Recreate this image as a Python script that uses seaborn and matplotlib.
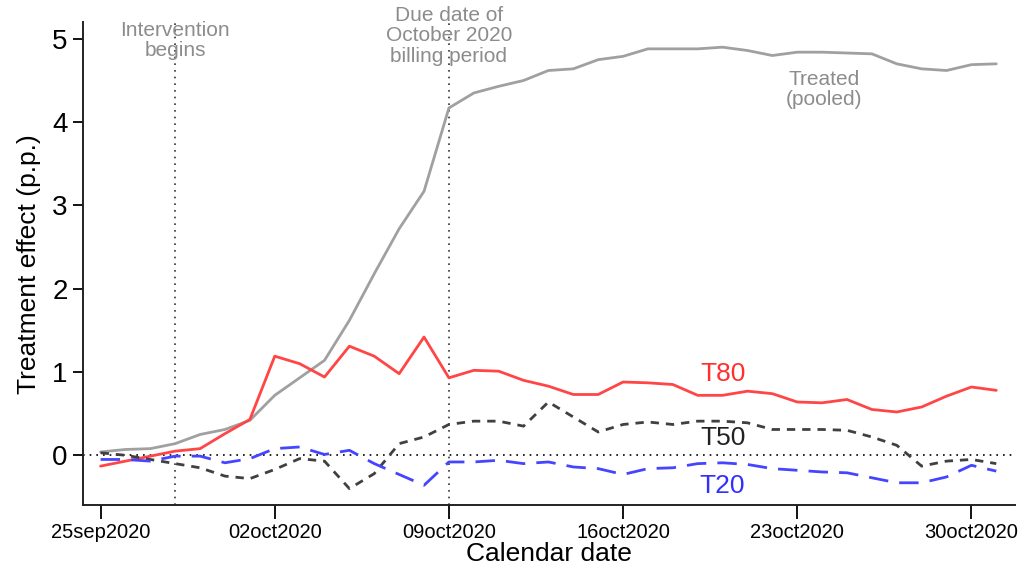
import pandas as pd
import matplotlib
matplotlib.use("Agg")
import matplotlib.pyplot as plt
import matplotlib.dates as mdates
import seaborn as sns

# Daily treatment effects, 25sep2020 .. 31oct2020
dates = pd.date_range("2020-09-25", "2020-10-31", freq="D")

pooled = [0.04, 0.07, 0.08, 0.14, 0.25, 0.31, 0.42, 0.72, 0.93, 1.14,
          1.62, 2.18, 2.72, 3.17, 4.17, 4.35, 4.43, 4.50, 4.62, 4.64,
          4.75, 4.79, 4.88, 4.88, 4.88, 4.90, 4.86, 4.80, 4.84, 4.84,
          4.83, 4.82, 4.70, 4.64, 4.62, 4.69, 4.70]
t80 = [-0.13, -0.07, -0.01, 0.05, 0.08, 0.26, 0.43, 1.19, 1.10, 0.94,
       1.31, 1.19, 0.98, 1.42, 0.93, 1.02, 1.01, 0.90, 0.83, 0.73,
       0.73, 0.88, 0.87, 0.85, 0.72, 0.72, 0.77, 0.74, 0.64, 0.63,
       0.67, 0.55, 0.52, 0.58, 0.71, 0.82, 0.78]
t50 = [0.03, 0.00, -0.05, -0.10, -0.15, -0.25, -0.28, -0.17, -0.04, -0.07,
       -0.40, -0.22, 0.14, 0.22, 0.37, 0.41, 0.41, 0.35, 0.64, 0.46,
       0.28, 0.37, 0.40, 0.37, 0.41, 0.41, 0.39, 0.31, 0.31, 0.31,
       0.30, 0.22, 0.12, -0.13, -0.07, -0.05, -0.10]
t20 = [-0.05, -0.05, -0.07, -0.01, -0.01, -0.09, -0.04, 0.08, 0.10, 0.01,
       0.06, -0.10, -0.23, -0.36, -0.08, -0.08, -0.06, -0.10, -0.08, -0.14,
       -0.16, -0.23, -0.16, -0.15, -0.10, -0.09, -0.11, -0.16, -0.18, -0.20,
       -0.21, -0.27, -0.33, -0.33, -0.26, -0.12, -0.19]

tick_dates = pd.to_datetime(["2020-09-25", "2020-10-02", "2020-10-09",
                             "2020-10-16", "2020-10-23", "2020-10-30"])
intervention_date = pd.Timestamp("2020-09-28")
due_date = pd.Timestamp("2020-10-09")

df = pd.DataFrame({"date": dates, "pooled": pooled, "T80": t80,
                   "T50": t50, "T20": t20})

sns.set_style("white")
plt.rcParams["font.family"] = ["Liberation Sans", "DejaVu Sans"]

fig = plt.figure(figsize=(10.28, 5.69), dpi=100)
ax = fig.add_axes([0.0807, 0.112, 0.9066, 0.849])

gray = "#A0A0A0"
red = "#FF4545"
dark = "#404040"
blue = "#4545FF"
txt_gray = "#8C8C8C"

# reference lines
ax.axhline(0, color="black", linestyle=(0, (1, 3)), linewidth=1.2, zorder=1)
ax.axvline(intervention_date, color="#333333", linestyle=(0, (1, 3)), linewidth=1.2, zorder=1)
ax.axvline(due_date, color="#333333", linestyle=(0, (1, 3)), linewidth=1.2, zorder=1)

sns.lineplot(data=df, x="date", y="pooled", ax=ax, color=gray, linewidth=2)
sns.lineplot(data=df, x="date", y="T80", ax=ax, color=red, linewidth=2)
sns.lineplot(data=df, x="date", y="T50", ax=ax, color=dark, linewidth=2,
             linestyle=(0, (3, 2.5)))
sns.lineplot(data=df, x="date", y="T20", ax=ax, color=blue, linewidth=2,
             linestyle=(0, (7, 4)))

# series labels
lbl_x = pd.Timestamp("2020-10-20")
ax.text(lbl_x, 0.98, "T80", color="#FF3030", fontsize=19, ha="center", va="center")
ax.text(lbl_x, 0.21, "T50", color="#222222", fontsize=19, ha="center", va="center")
ax.text(lbl_x, -0.37, "T20", color="#3030FF", fontsize=19, ha="center", va="center")
ax.text(pd.Timestamp("2020-10-24 02:00"), 4.39, "Treated\n(pooled)", color=txt_gray,
        fontsize=15, ha="center", va="center", linespacing=1.1)

# event annotations
ax.text(intervention_date, 5.22, "Intervention\nbegins", color=txt_gray, fontsize=15,
        ha="center", va="top", linespacing=1.1)
ax.text(due_date, 5.4, "Due date of\nOctober 2020\nbilling period", color=txt_gray,
        fontsize=15, ha="center", va="top", linespacing=1.1)

ax.set_xlim(dates[0] - pd.Timedelta(hours=17), dates[-1] + pd.Timedelta(hours=18))
ax.set_ylim(-0.6, 5.2)
ax.set_yticks(range(0, 6))
ax.set_xticks(tick_dates)
ax.xaxis.set_major_formatter(mdates.DateFormatter("%d%b%Y"))
ax.set_xticklabels([d.strftime("%d%b%Y").lower() for d in tick_dates])

ax.tick_params(axis="y", labelsize=20, length=7, width=1.3, direction="out",
               left=True, pad=4, colors="black")
ax.tick_params(axis="x", labelsize=14.5, length=10, width=1.3, direction="out",
               bottom=True, pad=3, colors="black")

ax.set_xlabel("Calendar date", fontsize=19, labelpad=0, color="black")
ax.set_ylabel("Treatment effect (p.p.)", fontsize=19, labelpad=8, color="black")

sns.despine(ax=ax)
for side in ["left", "bottom"]:
    ax.spines[side].set_color("#222222")
    ax.spines[side].set_linewidth(1.4)

fig.savefig("out.png", dpi=100)
